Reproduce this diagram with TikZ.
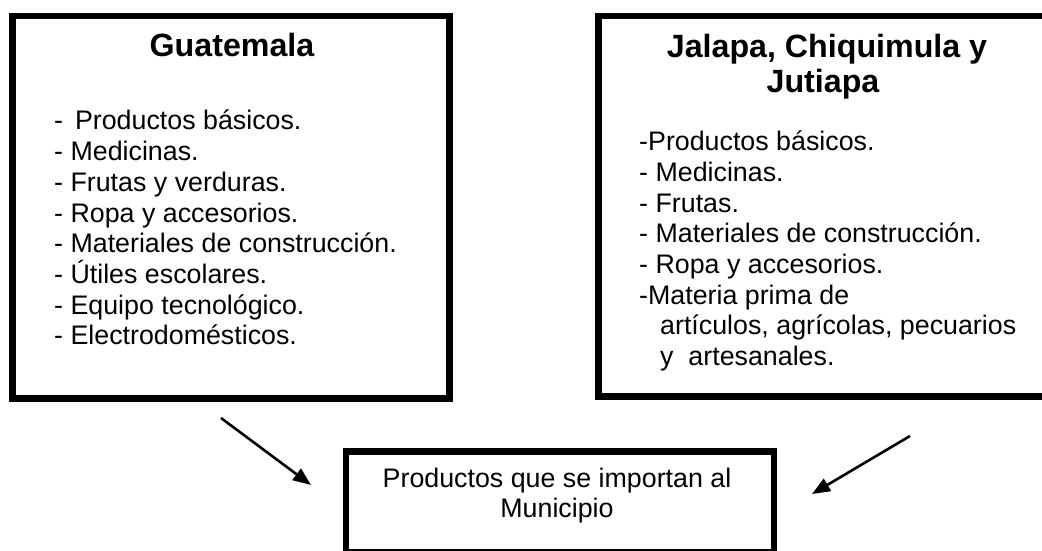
\documentclass[tikz,border=0pt]{standalone}
\usepackage{fontspec}
\setmainfont{Liberation Sans}
\usetikzlibrary{arrows.meta}

\begin{document}
\begin{tikzpicture}[x=1pt, y=1pt,
    box/.style={draw, rectangle, line width=6.5pt, inner sep=0pt},
    title/.style={inner sep=0pt, anchor=base, font=\bfseries\fontsize{32.2}{37}\selectfont},
    item/.style={inner sep=0pt, anchor=base west, font=\fontsize{26.8}{30.8}\selectfont},
    link/.style={line width=2.6pt, -{Triangle[length=18pt, width=14pt]}}]
    \path[use as bounding box, clip] (0,0) rectangle (1042,550);
    % the three boxes
    \node[box, minimum width=437pt, minimum height=382.5pt] (guate) at (231,342.75) {};
    \node[box, minimum width=449pt, minimum height=380.5pt] (jalapa) at (823,343.75) {};
    \node[box, minimum width=428pt, minimum height=100.5pt] (muni) at (560,48.25) {};
    % titles
    \node[title] (guate-t) at (232,493) {Guatemala};
    \node[title] (jalapa-t1) at (827,492) {Jalapa, Chiquimula y};
    \node[title] (jalapa-t2) at (823,457) {Jutiapa};
    % lists
    \foreach \t [count=\i] in {- \,Productos básicos., - Medicinas., - Frutas y verduras.,
        - Ropa y accesorios., - Materiales de construcción., - Útiles escolares.,
        - Equipo tecnológico., - Electrodomésticos.}
        \node[item] (g\i) at (54,420-30.7*\i+30.7) {\t};
    \foreach \dx/\t [count=\i] in {0/{-Productos básicos.}, 0/{- Medicinas.}, 0/{- Frutas.},
        0/{- Materiales de construcción.}, 0/{- Ropa y accesorios.}, 0/{-Materia prima de},
        21/{artículos, agrícolas, pecuarios}, 21/{y\ \ artesanales.}}
        \node[item] (j\i) at (639+\dx,399-30.6*\i+30.6) {\t};
    \node[item, anchor=base] (muni-1) at (557,63) {Productos que se importan al};
    \node[item, anchor=base] (muni-2) at (557,33) {Municipio};
    % arrows
    \coordinate (g-from) at (221,132);
    \coordinate (g-to) at (311,65);
    \coordinate (j-from) at (910,114);
    \coordinate (j-to) at (812,56);
    \draw[link] (g-from) -- (g-to);
    \draw[link] (j-from) -- (j-to);
\end{tikzpicture}
\end{document}
